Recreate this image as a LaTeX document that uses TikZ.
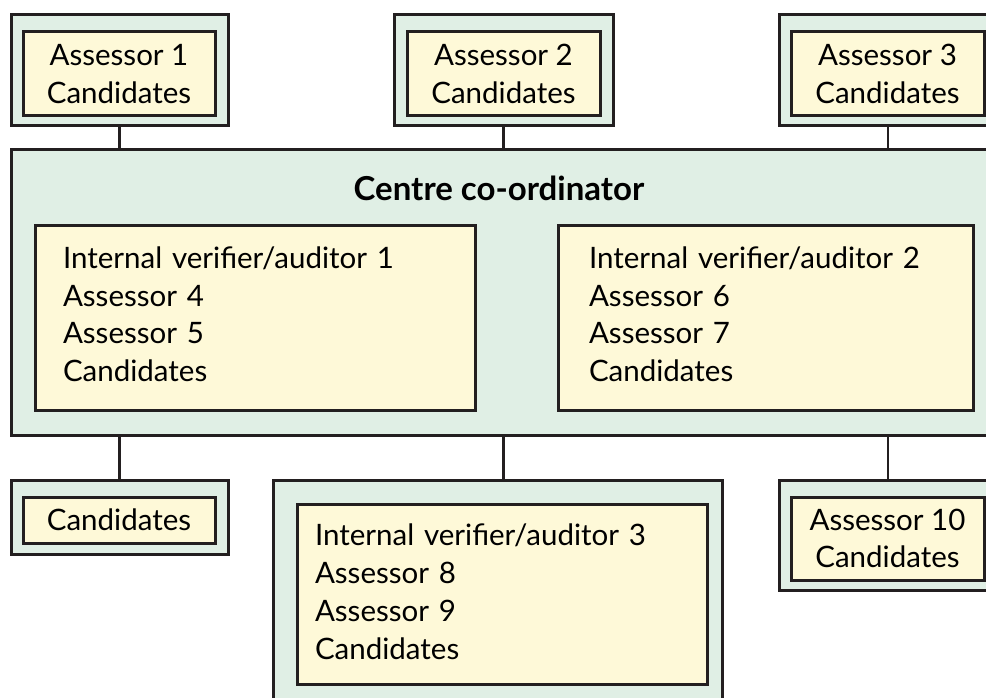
\documentclass[tikz,border=0pt]{standalone}
\usepackage{fontspec}
\setmainfont{Lato}
\definecolor{framegreen}{HTML}{E0EFE5}
\definecolor{cardyellow}{HTML}{FEF9D8}
\definecolor{inkline}{HTML}{231F20}
\newcommand\boxfont{\fontsize{29.5pt}{37.5pt}\selectfont}
\begin{document}
\begin{tikzpicture}[x=1pt,y=-1pt,
	outer/.style={draw=inkline,line width=3pt,fill=framegreen,anchor=north west,inner sep=0pt,outer sep=0pt},
	card/.style={draw=inkline,line width=3pt,fill=cardyellow,anchor=north west,inner sep=0pt,outer sep=0pt,align=center,font=\boxfont},
	listcard/.style={card,align=left,font=\fontsize{29.5pt}{38pt}\selectfont},
	link/.style={draw=inkline,line width=2.6pt}]
\clip (0,0) rectangle (986,698);
% top row
\node[outer,minimum width=217pt,minimum height=111pt] (u1) at (11,15) {};
\node[card,minimum width=192pt,minimum height=84pt] (a1) at (23,32) {Assessor 1\\Candidates};
\node[outer,minimum width=219pt,minimum height=111pt] (u2) at (394,15) {};
\node[card,minimum width=193pt,minimum height=84pt] (a2) at (407,32) {Assessor 2\\Candidates};
\node[outer,minimum width=218pt,minimum height=111pt] (u3) at (779,15) {};
\node[card,minimum width=193pt,minimum height=84pt] (a3) at (791,32) {Assessor 3\\Candidates};
% centre
\node[outer,minimum width=990pt,minimum height=285pt] (centre) at (11,150) {};
\node[font=\fontsize{33pt}{38pt}\selectfont\bfseries] (title) at (499,188) {Centre co-ordinator};
\node[listcard,text width=384pt,inner xsep=28pt,text height=43pt,text depth=142pt] (iv1) at (35,225)
	{Internal verifier/auditor 1\\Assessor 4\\Assessor 5\\Candidates};
\node[listcard,text width=353pt,inner xsep=31pt,text height=43pt,text depth=142pt] (iv2) at (558,225)
	{Internal verifier/auditor 2\\Assessor 6\\Assessor 7\\Candidates};
% bottom row
\node[outer,minimum width=217pt,minimum height=74pt] (u4) at (11,480) {};
\node[card,minimum width=192pt,minimum height=46pt] (a4) at (23,497) {Candidates};
\node[outer,minimum width=449pt,minimum height=240pt] (u5) at (273,480) {};
\node[listcard,text width=374pt,inner xsep=18pt,text height=41pt,text depth=139pt] (iv3) at (297,504)
	{Internal verifier/auditor 3\\Assessor 8\\Assessor 9\\Candidates};
\node[outer,minimum width=218pt,minimum height=110pt] (u6) at (779,480) {};
\node[card,minimum width=193pt,minimum height=83pt] (a6) at (791,497) {Assessor 10\\Candidates};
% links
\foreach \u in {u1,u2,u3}
	\draw[link] (\u.south) -- (\u.south |- centre.north);
\foreach \u in {u4,u6}
	\draw[link] (centre.south -| \u.north) -- (\u.north);
\draw[link] (centre.south -| u2.south) -- (u5.north -| u2.south);
\end{tikzpicture}
\end{document}
